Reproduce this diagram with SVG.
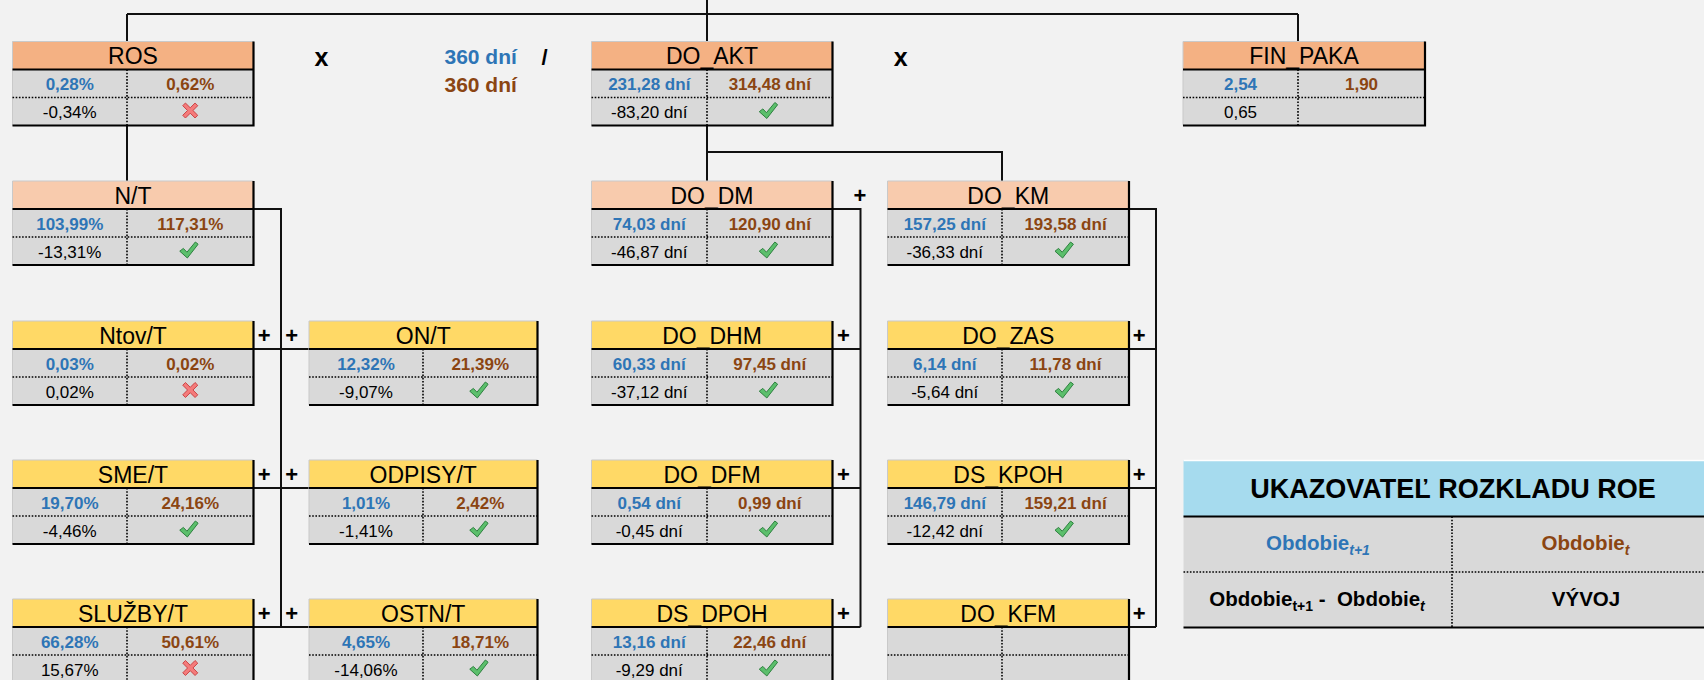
<svg xmlns="http://www.w3.org/2000/svg" width="1704" height="680" viewBox="0 0 1704 680">
<style>
text{font-family:"Liberation Sans",Arial,sans-serif;text-anchor:middle}
.hd{font-size:23px;fill:#000}
.b{font-size:17px;font-weight:bold;fill:#2e75b6}
.r{font-size:17px;font-weight:bold;fill:#8b4512}
.d{font-size:17px;fill:#000}
.op{font-size:22px;font-weight:bold;fill:#000}
.h0{fill:#f4b183}
.h1{fill:#f8cbad}
.h2{fill:#ffd966}
.rw{fill:#d9d9d9}
.lt{fill:none;stroke:#c9c9c9;stroke-width:1}
.dt{fill:none;stroke:#000;stroke-width:1.6;stroke-dasharray:1.6 1.6}
.bk{fill:none;stroke:#000;stroke-width:2.2}
.cn{fill:none;stroke:#111;stroke-width:2}
</style>
<defs>
<symbol id="ok" viewBox="0 0 20 18" width="20" height="18">
<path d="M1,10.2 L4.6,7.4 L8.2,11.2 L16.6,1 L19.4,3.2 L8.6,17 Z" fill="#5cbf6c" stroke="#2f8040" stroke-width="1" stroke-linejoin="round"/>
</symbol>
<symbol id="no" viewBox="0 0 18 18" width="18" height="18">
<path d="M1.5,4.2 L4.2,1.5 L9,6.3 L13.8,1.5 L16.5,4.2 L11.7,9 L16.5,13.8 L13.8,16.5 L9,11.7 L4.2,16.5 L1.5,13.8 L6.3,9 Z" fill="#f47b7b" stroke="#c94545" stroke-width="1" stroke-linejoin="round"/>
</symbol>
</defs>
<rect width="1704" height="680" fill="#f2f2f2"/>

<g id="connectors">
<path class="cn" d="M127,14 H1298 M127,14 V41.5 M1298,14 V41.5 M707,0 V41.5"/>
<path class="cn" d="M127,125.5 V181"/>
<path class="cn" d="M707,125.5 V181 M707,152 H1002 V181"/>
<path class="cn" d="M253.5,209 H281 V627 M253.5,349 H309 M253.5,488 H309 M253.5,627 H309"/>
<path class="cn" d="M832.5,209 H860.5 V627 M832.5,349 H860.5 M832.5,488 H860.5 M832.5,627 H860.5"/>
<path class="cn" d="M1129,209 H1156 V627 M1129,349 H1156 M1129,488 H1156 M1129,627 H1156"/>
</g>

<g id="operators">
<text class="op" x="321.4" y="65.5" style="font-size:25px">x</text>
<text class="op" x="900.6" y="65.5" style="font-size:25px">x</text>
<text class="b" x="480.7" y="63.5" style="font-size:21px">360 dní</text>
<text class="r" x="480.7" y="92" style="font-size:21px">360 dní</text>
<text class="op" x="544.6" y="65" style="font-size:22px">/</text>
<text class="op" x="860" y="202.5">+</text>
<text class="op" x="264.3" y="342.5">+</text><text class="op" x="291.7" y="342.5">+</text>
<text class="op" x="843.5" y="342.5">+</text><text class="op" x="1139.3" y="342.5">+</text>
<text class="op" x="264.3" y="481.5">+</text><text class="op" x="291.7" y="481.5">+</text>
<text class="op" x="843.5" y="481.5">+</text><text class="op" x="1139.3" y="481.5">+</text>
<text class="op" x="264.3" y="620.5">+</text><text class="op" x="291.7" y="620.5">+</text>
<text class="op" x="843.5" y="620.5">+</text><text class="op" x="1139.3" y="620.5">+</text>
</g>

<g id="ROS" transform="translate(12.5,41.5)">
<rect class="h0" width="241" height="28"/><rect class="rw" y="28" width="241" height="56"/>
<path class="lt" d="M0,84 V0 H241"/><path class="dt" d="M0,56 H241 M114.5,28 V84"/><path class="bk" d="M0,28 H241 M241,0 V84 H0"/>
<text class="hd" x="120.5" y="22.5">ROS</text>
<text class="b" x="57.25" y="48.5">0,28%</text><text class="r" x="177.75" y="48.5">0,62%</text>
<text class="d" x="57.25" y="76.5">-0,34%</text><use href="#no" x="168.75" y="60"/>
</g>

<g id="DO_AKT" transform="translate(591.5,41.5)">
<rect class="h0" width="241" height="28"/><rect class="rw" y="28" width="241" height="56"/>
<path class="lt" d="M0,84 V0 H241"/><path class="dt" d="M0,56 H241 M115.5,28 V84"/><path class="bk" d="M0,28 H241 M241,0 V84 H0"/>
<text class="hd" x="120.5" y="22.5">DO_AKT</text>
<text class="b" x="57.75" y="48.5">231,28 dní</text><text class="r" x="178.25" y="48.5">314,48 dní</text>
<text class="d" x="57.75" y="76.5">-83,20 dní</text><use href="#ok" x="166.75" y="60"/>
</g>

<g id="FIN_PAKA" transform="translate(1183,41.5)">
<rect class="h0" width="242" height="28"/><rect class="rw" y="28" width="242" height="56"/>
<path class="lt" d="M0,84 V0 H242"/><path class="dt" d="M0,56 H242 M115,28 V84"/><path class="bk" d="M0,28 H242 M242,0 V84 H0"/>
<text class="hd" x="121" y="22.5">FIN_PAKA</text>
<text class="b" x="57.5" y="48.5">2,54</text><text class="r" x="178.5" y="48.5">1,90</text>
<text class="d" x="57.5" y="76.5">0,65</text>
</g>

<g id="N_T" transform="translate(12.5,181)">
<rect class="h1" width="241" height="28"/><rect class="rw" y="28" width="241" height="56"/>
<path class="lt" d="M0,84 V0 H241"/><path class="dt" d="M0,56 H241 M114.5,28 V84"/><path class="bk" d="M0,28 H241 M241,0 V84 H0"/>
<text class="hd" x="120.5" y="22.5">N/T</text>
<text class="b" x="57.25" y="48.5">103,99%</text><text class="r" x="177.75" y="48.5">117,31%</text>
<text class="d" x="57.25" y="76.5">-13,31%</text><use href="#ok" x="166.25" y="60"/>
</g>

<g id="DO_DM" transform="translate(591.5,181)">
<rect class="h1" width="241" height="28"/><rect class="rw" y="28" width="241" height="56"/>
<path class="lt" d="M0,84 V0 H241"/><path class="dt" d="M0,56 H241 M115.5,28 V84"/><path class="bk" d="M0,28 H241 M241,0 V84 H0"/>
<text class="hd" x="120.5" y="22.5">DO_DM</text>
<text class="b" x="57.75" y="48.5">74,03 dní</text><text class="r" x="178.25" y="48.5">120,90 dní</text>
<text class="d" x="57.75" y="76.5">-46,87 dní</text><use href="#ok" x="166.75" y="60"/>
</g>

<g id="DO_KM" transform="translate(887.5,181)">
<rect class="h1" width="241.5" height="28"/><rect class="rw" y="28" width="241.5" height="56"/>
<path class="lt" d="M0,84 V0 H241.5"/><path class="dt" d="M0,56 H241.5 M114.5,28 V84"/><path class="bk" d="M0,28 H241.5 M241.5,0 V84 H0"/>
<text class="hd" x="120.75" y="22.5">DO_KM</text>
<text class="b" x="57.25" y="48.5">157,25 dní</text><text class="r" x="178" y="48.5">193,58 dní</text>
<text class="d" x="57.25" y="76.5">-36,33 dní</text><use href="#ok" x="166.5" y="60"/>
</g>

<g id="Ntov_T" transform="translate(12.5,321)">
<rect class="h2" width="241" height="28"/><rect class="rw" y="28" width="241" height="56"/>
<path class="lt" d="M0,84 V0 H241"/><path class="dt" d="M0,56 H241 M114.5,28 V84"/><path class="bk" d="M0,28 H241 M241,0 V84 H0"/>
<text class="hd" x="120.5" y="22.5">Ntov/T</text>
<text class="b" x="57.25" y="48.5">0,03%</text><text class="r" x="177.75" y="48.5">0,02%</text>
<text class="d" x="57.25" y="76.5">0,02%</text><use href="#no" x="168.75" y="60"/>
</g>

<g id="ON_T" transform="translate(309,321)">
<rect class="h2" width="228.5" height="28"/><rect class="rw" y="28" width="228.5" height="56"/>
<path class="lt" d="M0,84 V0 H228.5"/><path class="dt" d="M0,56 H228.5 M114,28 V84"/><path class="bk" d="M0,28 H228.5 M228.5,0 V84 H0"/>
<text class="hd" x="114.25" y="22.5">ON/T</text>
<text class="b" x="57" y="48.5">12,32%</text><text class="r" x="171.25" y="48.5">21,39%</text>
<text class="d" x="57" y="76.5">-9,07%</text><use href="#ok" x="159.75" y="60"/>
</g>

<g id="DO_DHM" transform="translate(591.5,321)">
<rect class="h2" width="241" height="28"/><rect class="rw" y="28" width="241" height="56"/>
<path class="lt" d="M0,84 V0 H241"/><path class="dt" d="M0,56 H241 M115.5,28 V84"/><path class="bk" d="M0,28 H241 M241,0 V84 H0"/>
<text class="hd" x="120.5" y="22.5">DO_DHM</text>
<text class="b" x="57.75" y="48.5">60,33 dní</text><text class="r" x="178.25" y="48.5">97,45 dní</text>
<text class="d" x="57.75" y="76.5">-37,12 dní</text><use href="#ok" x="166.75" y="60"/>
</g>

<g id="DO_ZAS" transform="translate(887.5,321)">
<rect class="h2" width="241.5" height="28"/><rect class="rw" y="28" width="241.5" height="56"/>
<path class="lt" d="M0,84 V0 H241.5"/><path class="dt" d="M0,56 H241.5 M114.5,28 V84"/><path class="bk" d="M0,28 H241.5 M241.5,0 V84 H0"/>
<text class="hd" x="120.75" y="22.5">DO_ZAS</text>
<text class="b" x="57.25" y="48.5">6,14 dní</text><text class="r" x="178" y="48.5">11,78 dní</text>
<text class="d" x="57.25" y="76.5">-5,64 dní</text><use href="#ok" x="166.5" y="60"/>
</g>

<g id="SME_T" transform="translate(12.5,460)">
<rect class="h2" width="241" height="28"/><rect class="rw" y="28" width="241" height="56"/>
<path class="lt" d="M0,84 V0 H241"/><path class="dt" d="M0,56 H241 M114.5,28 V84"/><path class="bk" d="M0,28 H241 M241,0 V84 H0"/>
<text class="hd" x="120.5" y="22.5">SME/T</text>
<text class="b" x="57.25" y="48.5">19,70%</text><text class="r" x="177.75" y="48.5">24,16%</text>
<text class="d" x="57.25" y="76.5">-4,46%</text><use href="#ok" x="166.25" y="60"/>
</g>

<g id="ODPISY_T" transform="translate(309,460)">
<rect class="h2" width="228.5" height="28"/><rect class="rw" y="28" width="228.5" height="56"/>
<path class="lt" d="M0,84 V0 H228.5"/><path class="dt" d="M0,56 H228.5 M114,28 V84"/><path class="bk" d="M0,28 H228.5 M228.5,0 V84 H0"/>
<text class="hd" x="114.25" y="22.5">ODPISY/T</text>
<text class="b" x="57" y="48.5">1,01%</text><text class="r" x="171.25" y="48.5">2,42%</text>
<text class="d" x="57" y="76.5">-1,41%</text><use href="#ok" x="159.75" y="60"/>
</g>

<g id="DO_DFM" transform="translate(591.5,460)">
<rect class="h2" width="241" height="28"/><rect class="rw" y="28" width="241" height="56"/>
<path class="lt" d="M0,84 V0 H241"/><path class="dt" d="M0,56 H241 M115.5,28 V84"/><path class="bk" d="M0,28 H241 M241,0 V84 H0"/>
<text class="hd" x="120.5" y="22.5">DO_DFM</text>
<text class="b" x="57.75" y="48.5">0,54 dní</text><text class="r" x="178.25" y="48.5">0,99 dní</text>
<text class="d" x="57.75" y="76.5">-0,45 dní</text><use href="#ok" x="166.75" y="60"/>
</g>

<g id="DS_KPOH" transform="translate(887.5,460)">
<rect class="h2" width="241.5" height="28"/><rect class="rw" y="28" width="241.5" height="56"/>
<path class="lt" d="M0,84 V0 H241.5"/><path class="dt" d="M0,56 H241.5 M114.5,28 V84"/><path class="bk" d="M0,28 H241.5 M241.5,0 V84 H0"/>
<text class="hd" x="120.75" y="22.5">DS_KPOH</text>
<text class="b" x="57.25" y="48.5">146,79 dní</text><text class="r" x="178" y="48.5">159,21 dní</text>
<text class="d" x="57.25" y="76.5">-12,42 dní</text><use href="#ok" x="166.5" y="60"/>
</g>

<g id="SLUZBY_T" transform="translate(12.5,599)">
<rect class="h2" width="241" height="28"/><rect class="rw" y="28" width="241" height="56"/>
<path class="lt" d="M0,84 V0 H241"/><path class="dt" d="M0,56 H241 M114.5,28 V84"/><path class="bk" d="M0,28 H241 M241,0 V84 H0"/>
<text class="hd" x="120.5" y="22.5">SLUŽBY/T</text>
<text class="b" x="57.25" y="48.5">66,28%</text><text class="r" x="177.75" y="48.5">50,61%</text>
<text class="d" x="57.25" y="76.5">15,67%</text><use href="#no" x="168.75" y="60"/>
</g>

<g id="OSTN_T" transform="translate(309,599)">
<rect class="h2" width="228.5" height="28"/><rect class="rw" y="28" width="228.5" height="56"/>
<path class="lt" d="M0,84 V0 H228.5"/><path class="dt" d="M0,56 H228.5 M114,28 V84"/><path class="bk" d="M0,28 H228.5 M228.5,0 V84 H0"/>
<text class="hd" x="114.25" y="22.5">OSTN/T</text>
<text class="b" x="57" y="48.5">4,65%</text><text class="r" x="171.25" y="48.5">18,71%</text>
<text class="d" x="57" y="76.5">-14,06%</text><use href="#ok" x="159.75" y="60"/>
</g>

<g id="DS_DPOH" transform="translate(591.5,599)">
<rect class="h2" width="241" height="28"/><rect class="rw" y="28" width="241" height="56"/>
<path class="lt" d="M0,84 V0 H241"/><path class="dt" d="M0,56 H241 M115.5,28 V84"/><path class="bk" d="M0,28 H241 M241,0 V84 H0"/>
<text class="hd" x="120.5" y="22.5">DS_DPOH</text>
<text class="b" x="57.75" y="48.5">13,16 dní</text><text class="r" x="178.25" y="48.5">22,46 dní</text>
<text class="d" x="57.75" y="76.5">-9,29 dní</text><use href="#ok" x="166.75" y="60"/>
</g>

<g id="DO_KFM" transform="translate(887.5,599)">
<rect class="h2" width="241.5" height="28"/><rect class="rw" y="28" width="241.5" height="56"/>
<path class="lt" d="M0,84 V0 H241.5"/><path class="dt" d="M0,56 H241.5 M114.5,28 V84"/><path class="bk" d="M0,28 H241.5 M241.5,0 V84 H0"/>
<text class="hd" x="120.75" y="22.5">DO_KFM</text>
</g>

<g id="legend">
<rect x="1183.5" y="460" width="540" height="56.5" fill="#a6dbee"/>
<rect x="1183.5" y="516.5" width="540" height="111" class="rw"/>
<path d="M1183.5,460.5 H1704" stroke="#ffffff" stroke-width="1.5"/>
<path class="dt" d="M1183.5,572 H1704 M1452,516.5 V627.5"/>
<path class="bk" d="M1183.5,516.5 H1704 M1183.5,627.5 H1704"/>
<text x="1453" y="497.5" style="font-size:27px;font-weight:bold;fill:#000">UKAZOVATEĽ ROZKLADU ROE</text>
<text x="1318" y="549.5" style="font-size:20.5px;font-weight:bold;fill:#2e75b6">Obdobie<tspan dy="5" style="font-size:14px;font-style:italic">t+1</tspan></text>
<text x="1585.5" y="549.5" style="font-size:20.5px;font-weight:bold;fill:#8b4512">Obdobie<tspan dy="5" style="font-size:14px;font-style:italic">t</tspan></text>
<text x="1317" y="605.5" style="font-size:20.5px;font-weight:bold;fill:#000">Obdobie<tspan dy="5" style="font-size:14px">t+1</tspan><tspan dy="-5" xml:space="preserve"> -  Obdobie</tspan><tspan dy="5" style="font-size:14px;font-style:italic">t</tspan></text>
<text x="1586" y="605.5" style="font-size:20.5px;font-weight:bold;fill:#000">VÝVOJ</text>
</g>
</svg>
